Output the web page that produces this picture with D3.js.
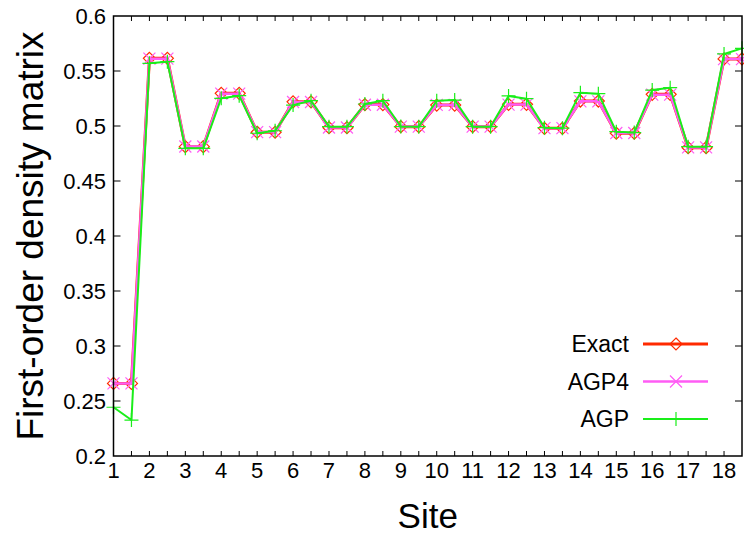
<!DOCTYPE html>
<html lang="en">
<head>
    <meta charset="UTF-8">
    <title>First-order density matrix</title>
    <style>
        body {
            margin: 0;
            background: #ffffff;
        }
        text {
            font-family: "Liberation Sans", Arial, Helvetica, sans-serif;
        }
    </style>
</head>
<body>
    <div class="vis"><svg width="744" height="538"></svg></div>
    <script src="https://cdnjs.cloudflare.com/ajax/libs/d3/7.8.5/d3.min.js"></script>
    <script>
        var sites = [1, 1.5, 2, 2.5, 3, 3.5, 4, 4.5, 5, 5.5, 6, 6.5, 7, 7.5, 8, 8.5, 9, 9.5,
            10, 10.5, 11, 11.5, 12, 12.5, 13, 13.5, 14, 14.5, 15, 15.5, 16, 16.5, 17, 17.5, 18, 18.5];

        var exact = [0.266, 0.266, 0.5615, 0.5615, 0.4812, 0.4812, 0.5297, 0.5297, 0.4943, 0.4943,
            0.522, 0.522, 0.4985, 0.4985, 0.5195, 0.5195, 0.4994, 0.4994, 0.519, 0.519,
            0.4994, 0.4994, 0.5197, 0.5197, 0.4979, 0.4979, 0.5227, 0.5227, 0.4934, 0.4934,
            0.5288, 0.5288, 0.4803, 0.4803, 0.561, 0.561];

        var agp4 = [0.266, 0.266, 0.5612, 0.5612, 0.4814, 0.4814, 0.5294, 0.5294, 0.4945, 0.4945,
            0.5218, 0.5218, 0.4986, 0.4986, 0.5193, 0.5193, 0.4995, 0.4995, 0.5192, 0.5192,
            0.4995, 0.4995, 0.5195, 0.5195, 0.498, 0.498, 0.5224, 0.5224, 0.4936, 0.4936,
            0.5285, 0.5285, 0.4805, 0.4805, 0.5608, 0.5608];

        var agp = [0.2443, 0.2327, 0.557, 0.5585, 0.4797, 0.4797, 0.5252, 0.5276, 0.4934, 0.4957,
            0.519, 0.523, 0.4994, 0.4994, 0.52, 0.523, 0.4995, 0.4994, 0.523, 0.5236,
            0.4994, 0.4994, 0.5273, 0.5248, 0.4985, 0.498, 0.5303, 0.5294, 0.4948, 0.494,
            0.5327, 0.5348, 0.4812, 0.4812, 0.5655, 0.5706];

        var xTicks = [1, 2, 3, 4, 5, 6, 7, 8, 9, 10, 11, 12, 13, 14, 15, 16, 17, 18];
        var yTicks = [0.2, 0.25, 0.3, 0.35, 0.4, 0.45, 0.5, 0.55, 0.6];

        var series = [
            { name: 'Exact', values: exact, color: '#ff2a00', width: 3, symbol: 'diamond' },
            { name: 'AGP4', values: agp4, color: '#ff5cf5', width: 2.5, symbol: 'cross' },
            { name: 'AGP', values: agp, color: '#1aee1a', width: 2, symbol: 'plus' }
        ];

        var svg = d3.select('.vis svg');
        var pLeft = 113.5, pRight = 742, pTop = 16, pBottom = 456;

        var xScale = d3.scaleLinear().domain([1, 18.5]).range([pLeft, pRight]);
        var yScale = d3.scaleLinear().domain([0.2, 0.6]).range([pBottom, pTop]);

        // point symbols, drawn as paths centred on 0,0
        function symbolPath(kind, s) {
            if (kind === 'diamond') return `M0,${-s}L${s},0L0,${s}L${-s},0Z`;
            if (kind === 'cross') return `M${-s},${-s}L${s},${s}M${-s},${s}L${s},${-s}`;
            return `M${-s},0L${s},0M0,${-s}L0,${s}`;
        }

        // ticks: x every half site, y every 0.05, mirrored on top/right
        var xMinor = sites.filter(d => d > 1 && d < 18.5);
        var axisG = svg.append('g');
        axisG.selectAll('line.xt')
            .data(xMinor)
            .enter()
            .append('line')
            .attr('x1', d => xScale(d)).attr('x2', d => xScale(d))
            .attr('y1', pBottom).attr('y2', pBottom - 5)
            .attr('stroke', '#000').attr('stroke-width', 1);
        axisG.selectAll('line.xtt')
            .data(xMinor)
            .enter()
            .append('line')
            .attr('x1', d => xScale(d)).attr('x2', d => xScale(d))
            .attr('y1', pTop).attr('y2', pTop + 5)
            .attr('stroke', '#000').attr('stroke-width', 1);
        axisG.selectAll('line.yt')
            .data(yTicks.slice(1, -1))
            .enter()
            .append('line')
            .attr('x1', pLeft).attr('x2', pLeft + 7)
            .attr('y1', d => yScale(d)).attr('y2', d => yScale(d))
            .attr('stroke', '#000').attr('stroke-width', 1);
        axisG.selectAll('line.ytr')
            .data(yTicks.slice(1, -1))
            .enter()
            .append('line')
            .attr('x1', pRight).attr('x2', pRight - 7)
            .attr('y1', d => yScale(d)).attr('y2', d => yScale(d))
            .attr('stroke', '#000').attr('stroke-width', 1);

        axisG.selectAll('text.xl')
            .data(xTicks)
            .enter()
            .append('text')
            .attr('x', d => xScale(d))
            .attr('y', 478)
            .attr('text-anchor', 'middle')
            .attr('font-size', 22)
            .text(d => d);
        axisG.selectAll('text.yl')
            .data(yTicks)
            .enter()
            .append('text')
            .attr('x', 106)
            .attr('y', d => yScale(d) + 8)
            .attr('text-anchor', 'end')
            .attr('font-size', 22)
            .text(d => d);

        svg.append('text')
            .attr('x', (pLeft + pRight) / 2)
            .attr('y', 528)
            .attr('text-anchor', 'middle')
            .attr('font-size', 35)
            .text('Site');
        svg.append('text')
            .attr('transform', `translate(43, ${(pTop + pBottom) / 2}) rotate(-90)`)
            .attr('text-anchor', 'middle')
            .attr('font-size', 37)
            .text('First-order density matrix');

        // data lines and markers
        var line = d3.line()
            .x((d, i) => xScale(sites[i]))
            .y(d => yScale(d));

        series.forEach(function (s) {
            var g = svg.append('g');
            g.append('path')
                .attr('d', line(s.values))
                .attr('fill', 'none')
                .attr('stroke', s.color)
                .attr('stroke-width', s.width)
                .attr('stroke-linejoin', 'round');
            g.selectAll('path.pt')
                .data(s.values)
                .enter()
                .append('path')
                .attr('class', 'pt')
                .attr('transform', (d, i) => `translate(${xScale(sites[i])}, ${yScale(d)})`)
                .attr('d', symbolPath(s.symbol, s.symbol === 'plus' ? 7 : 6))
                .attr('fill', 'none')
                .attr('stroke', s.color)
                .attr('stroke-width', 1.2);
        });

        // legend
        var legend = svg.selectAll('g.legend')
            .data(series)
            .enter()
            .append('g')
            .attr('class', 'legend')
            .attr('transform', (d, i) => `translate(0, ${344 + i * 37.5})`);
        legend.append('text')
            .attr('x', 629)
            .attr('y', 8)
            .attr('text-anchor', 'end')
            .attr('font-size', 23)
            .text(d => d.name);
        legend.append('line')
            .attr('x1', 643).attr('x2', 708)
            .attr('y1', 0).attr('y2', 0)
            .attr('stroke', d => d.color)
            .attr('stroke-width', d => d.width);
        legend.append('path')
            .attr('transform', 'translate(676, 0)')
            .attr('d', d => symbolPath(d.symbol, d.symbol === 'plus' ? 7 : 6))
            .attr('fill', 'none')
            .attr('stroke', d => d.color)
            .attr('stroke-width', 1.2);

        // plot border
        svg.append('rect')
            .attr('x', pLeft).attr('y', pTop)
            .attr('width', pRight - pLeft).attr('height', pBottom - pTop)
            .attr('fill', 'none')
            .attr('stroke', '#000')
            .attr('stroke-width', 1.5);
    </script>
</body>
</html>
